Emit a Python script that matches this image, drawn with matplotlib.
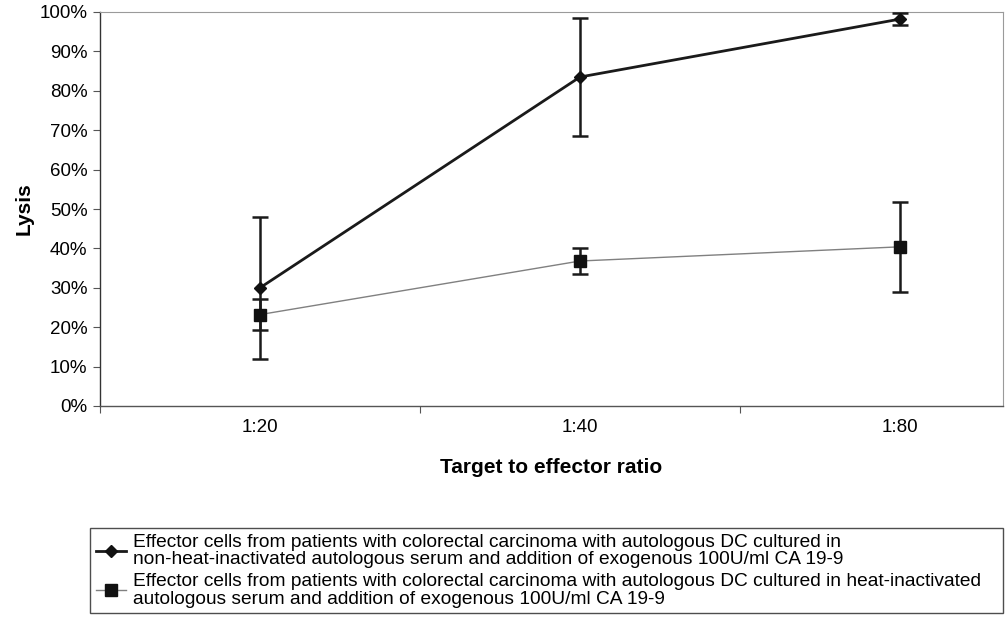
import matplotlib.pyplot as plt
from matplotlib.lines import Line2D
from matplotlib.ticker import PercentFormatter

plt.rcParams["font.family"] = ["Liberation Sans", "DejaVu Sans"]

# --- data ---
ratios = ["1:20", "1:40", "1:80"]
lysis_non_heat = [30.0, 83.5, 98.2]
err_non_heat = [18.0, 15.0, 1.5]
lysis_heat = [23.2, 36.8, 40.4]
err_heat = [4.0, 3.4, 11.5]

label_non_heat = ("Effector cells from patients with colorectal carcinoma with autologous DC cultured in\n"
                  "non-heat-inactivated autologous serum and addition of exogenous 100U/ml CA 19-9")
label_heat = ("Effector cells from patients with colorectal carcinoma with autologous DC cultured in heat-inactivated\n"
              "autologous serum and addition of exogenous 100U/ml CA 19-9")

W, H = 1007, 618
fig = plt.figure(figsize=(W / 100, H / 100), dpi=100)
ax = fig.add_axes([100 / W, 1 - 406 / H, 903 / W, 394 / H])

x = list(range(len(ratios)))

style_non_heat = dict(color="#1a1a1a", lw=2.0, marker="D", ms=6.5, mfc="#111111", mec="#111111")
style_heat = dict(color="#808080", lw=1.0, marker="s", ms=8, mfc="#111111", mec="#111111")

ax.errorbar(x, lysis_non_heat, yerr=err_non_heat, ecolor="#1a1a1a", elinewidth=1.8,
            capsize=6, capthick=1.8, zorder=3, **style_non_heat)
ax.errorbar(x, lysis_heat, yerr=err_heat, ecolor="#1a1a1a", elinewidth=1.8,
            capsize=6, capthick=1.8, zorder=3, **style_heat)

ax.set_xlim(-0.5, 2.322)
ax.set_ylim(0, 100)
ax.set_yticks(range(0, 101, 10))
ax.yaxis.set_major_formatter(PercentFormatter(decimals=0))
ax.set_xticks(x)
ax.set_xticklabels(ratios)
ax.set_xticks([-0.5, 0.5, 1.5], minor=True)
ax.tick_params(axis="x", which="major", length=0, pad=9, labelsize=13.5)
ax.tick_params(axis="x", which="minor", length=5, width=0.8, color="#555555")
ax.tick_params(axis="y", length=5, width=0.8, color="#555555", labelsize=13.5, pad=4)

for side in ["top", "right"]:
    ax.spines[side].set_color("#9a9a9a")
    ax.spines[side].set_linewidth(0.8)
ax.spines["left"].set_color("#333333")
ax.spines["left"].set_linewidth(1.0)
ax.spines["bottom"].set_color("#555555")
ax.spines["bottom"].set_linewidth(1.0)

ax.set_ylabel("Lysis", fontsize=15, fontweight="bold", labelpad=4)
ax.set_xlabel("Target to effector ratio", fontsize=15, fontweight="bold", labelpad=16)

handles = [Line2D([], [], **style_non_heat), Line2D([], [], **style_heat)]
leg = fig.legend(handles, [label_non_heat, label_heat],
                 loc="upper left", bbox_to_anchor=(90 / W, 1 - 528 / H, 913 / W, 0.0),
                 mode="expand", frameon=True, fancybox=False, edgecolor="#222222",
                 fontsize=13.8, handlelength=1.6, handletextpad=0.35,
                 labelspacing=0.3, borderpad=0.3, borderaxespad=0)
leg.get_frame().set_linewidth(1.0)
for t in leg.get_texts():
    t.set_linespacing(1.0)

fig.savefig("out.png", dpi=100)
